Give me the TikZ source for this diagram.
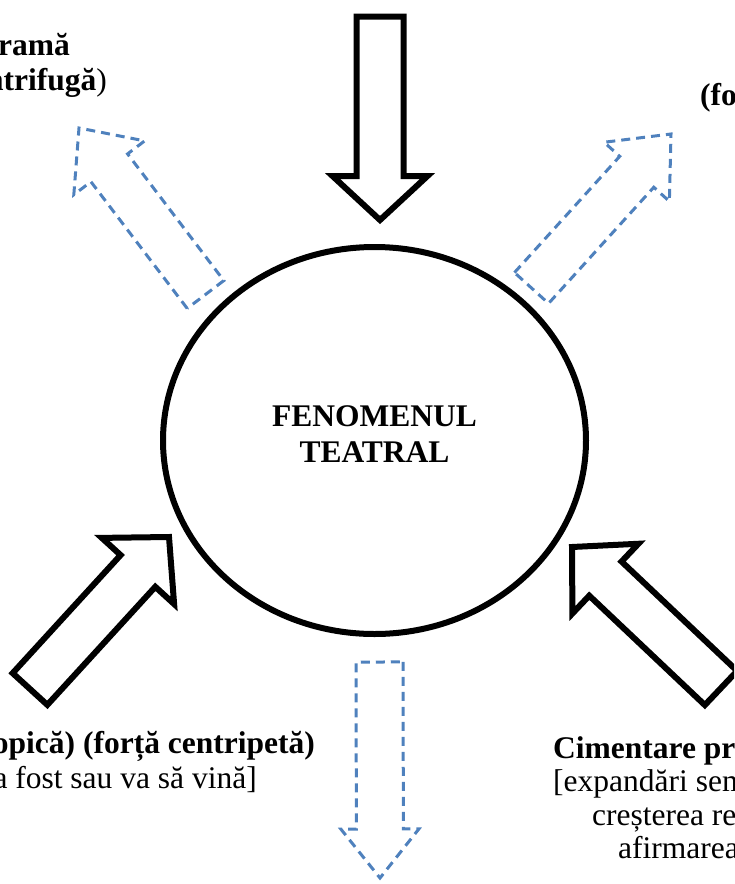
\documentclass[tikz,border=0pt]{standalone}
\usepackage{fontspec}
\setmainfont{Liberation Serif}
\usetikzlibrary{calc,shapes.geometric}
\definecolor{dashblue}{RGB}{79,129,189}

\tikzset{
  solidarrow/.style={draw=black, line width=6pt, fill=white},
  dashedarrow/.style={draw=dashblue, line width=3pt, dash pattern=on 9pt off 6pt},
  eticheta/.style={inner sep=0pt, font=\fontsize{31.5}{35}\selectfont},
}

% block arrow: style, tail, tip, half shaft, half head, head length
\newcommand{\blockarrow}[6]{%
  \coordinate (hb) at ($(#3)!#6!(#2)$);
  \draw[#1] ($(#2)!#4!90:(#3)$) -- ($(hb)!#4!90:(#3)$) -- ($(hb)!#5!90:(#3)$)
    -- (#3) -- ($(hb)!#5!-90:(#3)$) -- ($(hb)!#4!-90:(#3)$)
    -- ($(#2)!#4!-90:(#3)$) -- cycle;
}

\begin{document}
\begin{tikzpicture}[x=1pt,y=-1pt]
		\useasboundingbox (0,0) rectangle (734,884);
		\clip (0,0) rectangle (734,884);

		\node[ellipse, draw, line width=6pt, inner sep=0pt,
			minimum width=423pt, minimum height=387pt] (teatru) at (374.5,440.5) {};
		\node[eticheta, align=center, font=\fontsize{31.5}{36}\selectfont\bfseries]
			(titlu) at (374.5,434.5) {FENOMENUL\\TEATRAL};

		% arrow ends
		\coordinate (sus1) at (380,16.5);    \coordinate (sus2) at (380,220);
		\coordinate (sj1) at (30,689);       \coordinate (sj2) at (169,537);
		\coordinate (dj1) at (721,688);      \coordinate (dj2) at (572,547);
		\coordinate (ss1) at (205.5,294.5);  \coordinate (ss2) at (79,128);
		\coordinate (ds1) at (531.5,288);    \coordinate (ds2) at (671,134);
		\coordinate (jos1) at (379.5,662);   \coordinate (jos2) at (380,878);

		\blockarrow{solidarrow}{sus1}{sus2}{23.5pt}{47.5pt}{44pt}
		\blockarrow{solidarrow}{sj1}{sj2}{23.5pt}{49pt}{46pt}
		\blockarrow{solidarrow}{dj1}{dj2}{23.5pt}{48pt}{46pt}
		\blockarrow{dashedarrow}{ss1}{ss2}{23pt}{44.5pt}{50pt}
		\blockarrow{dashedarrow}{ds1}{ds2}{23pt}{44pt}{51pt}
		\blockarrow{dashedarrow}{jos1}{jos2}{23.5pt}{39pt}{49pt}

		% labels
		\begin{scope}[every node/.style={eticheta}]
			\node[anchor=base east] (ss-a) at (70,55) {\textbf{ramă}};
			\node[anchor=base east] (ss-b) at (107,90) {\textbf{ntrifugă})};
			\node[anchor=base west] (ds-a) at (700,105) {\textbf{(fo}};
			\node[anchor=base east] (sj-a) at (315,753) {\textbf{opică) (forță centripetă)}};
			\node[anchor=base east] (sj-b) at (257,788) {a fost sau va să vină]};
			\node[anchor=base west] (dj-a) at (553,758) {\textbf{Cimentare pr}};
			\node[anchor=base west] (dj-b) at (553,791) {[expandări sem};
			\node[anchor=base west] (dj-c) at (592,825) {creșterea re};
			\node[anchor=base west] (dj-d) at (618,858) {afirmarea};
		\end{scope}
	\end{tikzpicture}
\end{document}
